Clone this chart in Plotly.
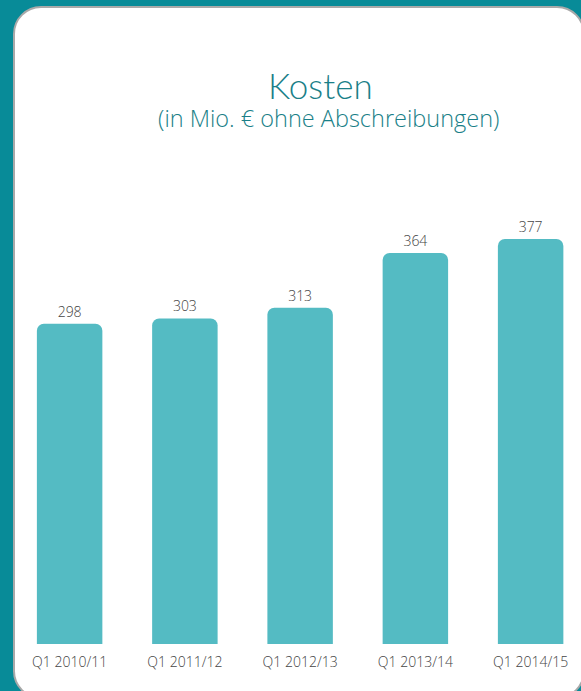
import plotly.graph_objects as go

categories = ["Q1 2010/11", "Q1 2011/12", "Q1 2012/13", "Q1 2013/14", "Q1 2014/15"]
values = [298, 303, 313, 364, 377]
value_labels = ["298", "303", "313", "364", "377"]

W, H = 581, 691
L, R, T, B = 12, 0, 130, 47
PW = W - L - R
PH = H - T - B
SPACING = 115.25          # px per category
SCALE = 1.0745            # px per unit
xmax = -0.5 + PW / SPACING
ymax = PH / SCALE

def px(x):
    return (x - L) / PW

def py(y):
    return (H - B - y) / PH

TEAL_BG = "#088b98"
BAR = "#54bbc3"
TITLE = "#1a7f88"
TXT = "#444444"
FONT = "Lato"

# rounded white panel path (pixel coords converted to paper)
x0, y0, x1, y1, r = 14, 7, 584, 698, 27
k = 0.5523 * r
def P(x, y):
    return f"{px(x):.5f},{py(y):.5f}"
path = (
    f"M {P(x0, y0 + r)} "
    f"C {P(x0, y0 + r - k)} {P(x0 + r - k, y0)} {P(x0 + r, y0)} "
    f"L {P(x1 - r, y0)} "
    f"C {P(x1 - r + k, y0)} {P(x1, y0 + r - k)} {P(x1, y0 + r)} "
    f"L {P(x1, y1 - r)} "
    f"C {P(x1, y1 - r + k)} {P(x1 - r + k, y1)} {P(x1 - r, y1)} "
    f"L {P(x0 + r, y1)} "
    f"C {P(x0 + r - k, y1)} {P(x0, y1 - r + k)} {P(x0, y1 - r)} Z"
)

fig = go.Figure(
    go.Bar(
        x=categories,
        y=values,
        text=value_labels,
        textposition="outside",
        textfont=dict(family="Open Sans", size=14, color=TXT, weight=300),
        marker=dict(color=BAR, cornerradius=7, line=dict(width=0)),
        cliponaxis=False,
        hoverinfo="skip",
    )
)

fig.update_layout(
    width=W,
    height=H,
    margin=dict(l=L, r=R, t=T, b=B, pad=0),
    paper_bgcolor=TEAL_BG,
    plot_bgcolor="rgba(0,0,0,0)",
    bargap=0.432,
    showlegend=False,
    font=dict(family=FONT, color=TXT),
    xaxis=dict(
        range=[-0.5, xmax],
        showgrid=False,
        showline=False,
        zeroline=False,
        ticks="",
        ticklabelstandoff=8,
        tickfont=dict(family="Open Sans", size=14, color=TXT, weight=300),
        fixedrange=True,
    ),
    yaxis=dict(
        range=[0, ymax],
        visible=False,
        fixedrange=True,
    ),
    shapes=[
        dict(
            type="path",
            xref="paper",
            yref="paper",
            path=path,
            fillcolor="white",
            line=dict(color="#a9a9a9", width=2),
            layer="below",
        )
    ],
    annotations=[
        dict(
            text="Kosten",
            x=px(320.5), y=py(85),
            xref="paper", yref="paper",
            xanchor="center", yanchor="middle",
            showarrow=False,
            font=dict(family=FONT, size=35, color=TITLE, weight=300),
        ),
        dict(
            text="(in Mio. € ohne Abschreibungen)",
            x=px(328.5), y=py(118),
            xref="paper", yref="paper",
            xanchor="center", yanchor="middle",
            showarrow=False,
            font=dict(family="Open Sans", size=23.5, color=TITLE, weight=300),
        ),
    ],
)

fig.write_html(
    "out.html",
    config={"displayModeBar": False},
    post_script="document.body.style.margin='0';document.body.style.overflow='hidden';",
)
